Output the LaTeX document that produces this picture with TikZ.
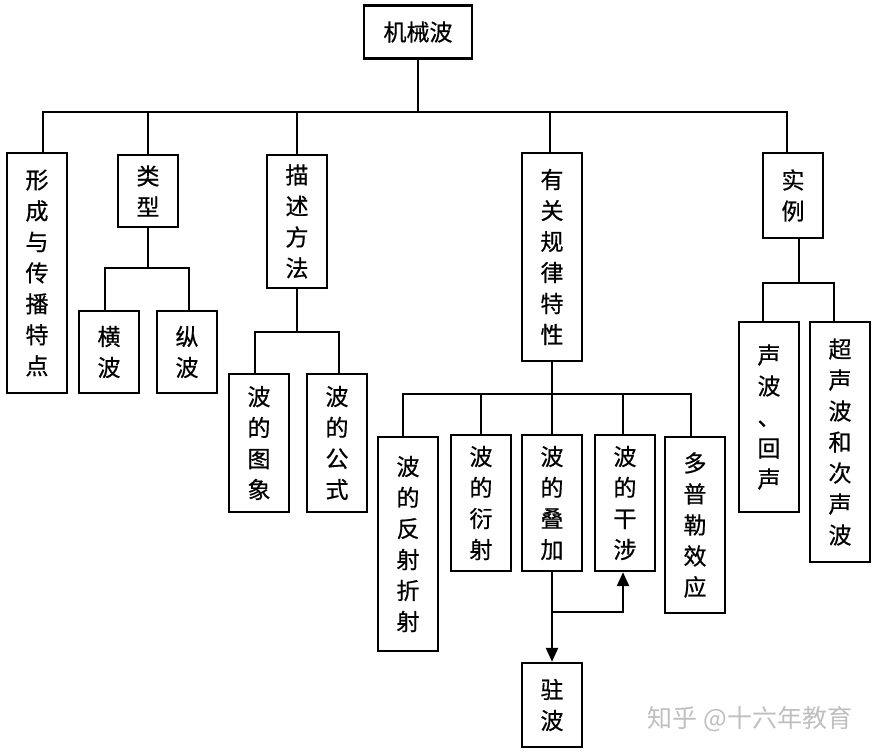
\documentclass[tikz,border=0pt]{standalone}
\usepackage{fontspec}
\newfontfamily\cjk[FakeBold=0.6]{Noto Sans CJK SC}
\newfontfamily\cjkmark{Noto Sans CJK SC}
\usetikzlibrary{arrows.meta}

\begin{document}
\begin{tikzpicture}[x=1pt,y=-1pt]
    \tikzstyle{edge}  = [line width=2.4pt,draw=black]
    \tikzstyle{aedge} = [edge,-{Triangle[length=14pt,width=12pt]}]
    \tikzstyle{box}=[
      rectangle,
      draw=black,
      line width=2.4pt,
      inner sep=0pt,
      align=center,
      minimum width=60pt,
      font=\cjk\fontsize{23}{31}\selectfont,
    ]
    \tikzstyle{watermark}=[
      font=\cjkmark\fontsize{25}{25}\selectfont,
      text=black!25,
    ]

    \useasboundingbox (0,0) rectangle (878,752);

    % root
    \node[box, minimum width=108pt, minimum height=53pt] (root) at (418,32) {机械波};

    % first level
    {
      \node[box, minimum height=240pt] (xingcheng) at (37,273) {形\\成\\与\\传\\播\\特\\点};
      \node[box, minimum height=72pt] (leixing) at (148,191) {类\\型};
      \node[box, minimum height=133pt] (miaoshu) at (297,221.5) {描\\述\\方\\法};
      \node[box, minimum height=208pt] (guilv) at (552,257) {有\\关\\规\\律\\特\\性};
      \node[box, minimum height=85pt] (shili) at (793,195.5) {实\\例};

      \draw[edge] (root.south) -- ++(0,52) -| ([xshift=6]xingcheng.north);
      \draw[edge] (root.south) -- ++(0,52) -| (leixing.north);
      \draw[edge] (root.south) -- ++(0,52) -| (miaoshu.north);
      \draw[edge] (root.south) -- ++(0,52) -| ([xshift=-2]guilv.north);
      \draw[edge] (root.south) -- ++(0,52) -| ([xshift=-6]shili.north);
    }

    % types
    {
      \node[box, minimum height=82pt] (hengbo) at (109,352) {横\\波};
      \node[box, minimum height=82pt] (zongbo) at (187,352) {纵\\波};

      \draw[edge] (leixing.south) -- ++(0,40) -| ([xshift=-4]hengbo.north);
      \draw[edge] (leixing.south) -- ++(0,40) -| ([xshift=2]zongbo.north);
    }

    % description
    {
      \node[box, minimum height=138pt] (tuxiang) at (259,443) {波\\的\\图\\象};
      \node[box, minimum height=138pt] (gongshi) at (337,443) {波\\的\\公\\式};

      \draw[edge] (miaoshu.south) -- ++(0,43) -| ([xshift=-4]tuxiang.north);
      \draw[edge] (miaoshu.south) -- ++(0,43) -| ([xshift=2]gongshi.north);
    }

    % laws
    {
      \node[box, minimum height=214pt] (fanshe) at (408,544) {波\\的\\反\\射\\折\\射};
      \node[box, minimum height=136pt] (yanshe) at (481,503) {波\\的\\衍\\射};
      \node[box, minimum height=136pt] (diejia) at (552,503) {波\\的\\叠\\加};
      \node[box, minimum height=136pt] (ganshe) at (625,503) {波\\的\\干\\涉};
      \node[box, minimum height=176pt] (duopule) at (695,525) {多\\普\\勒\\效\\应};
      \node[box, minimum height=84pt] (zhubo) at (552,705) {驻\\波};

      \draw[edge] (guilv.south) -- ++(0,32) -| ([xshift=-5]fanshe.north);
      \draw[edge] (guilv.south) -- ++(0,32) -| (yanshe.north);
      \draw[edge] (guilv.south) -- ++(0,32) -| (diejia.north);
      \draw[edge] (guilv.south) -- ++(0,32) -| ([xshift=-2]ganshe.north);
      \draw[edge] (guilv.south) -- ++(0,32) -| ([xshift=-4]duopule.north);

      \draw[aedge] (diejia.south) -- (zhubo.north);
      \draw[aedge] (diejia.south) ++(0,40) -| ([xshift=-2]ganshe.south);
    }

    % examples
    {
      \node[box, minimum height=190pt] (shengbo) at (769,417) {声\\波\\、\\回\\声};
      \node[box, minimum height=240pt] (chaosheng) at (840,442) {超\\声\\波\\和\\次\\声\\波};

      \draw[edge] ([xshift=6]shili.south) -- ++(0,44) -| ([xshift=-6]shengbo.north);
      \draw[edge] ([xshift=6]shili.south) -- ++(0,44) -| ([xshift=-6]chaosheng.north);
    }

    % watermark
    \node[watermark] (zhihu) at (750,719) {知乎 @十六年教育};
\end{tikzpicture}
\end{document}
